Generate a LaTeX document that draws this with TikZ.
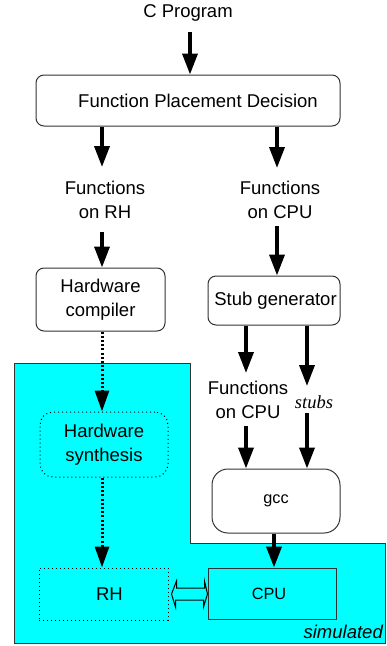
\documentclass[tikz,border=0pt]{standalone}
\usepackage{fontspec}
\setmainfont{Liberation Sans}
\newfontfamily\serifit{Liberation Serif}
\usetikzlibrary{arrows.meta}
\definecolor{simcyan}{HTML}{00FFFF}
\definecolor{edgegray}{HTML}{333333}
\tikzset{
  txt/.style={font=\fontsize{18.5}{24}\selectfont, align=center, inner sep=0pt},
  roundbox/.style={draw=edgegray, line width=1pt, rounded corners=8pt, fill=white, txt},
  arr/.style={line width=3.6pt, -{Triangle[length=21pt,width=15pt]}},
  dotarr/.style={line width=3pt, dash pattern=on 2pt off 2.2pt, -{Triangle[length=21pt,width=14pt]}},
  dotbox/.style={draw=black, line width=1pt, dash pattern=on 1pt off 3pt, txt},
}
\begin{document}
\begin{tikzpicture}[x=1pt,y=-1pt]
\useasboundingbox (0,0) rectangle (386,646);
% simulated region
\draw[fill=simcyan, draw=edgegray, line width=1pt]
  (14,363) -- (190,363) -- (190,543) -- (385,543) -- (385,643) -- (14,643) -- cycle;
\node[txt, anchor=east, font=\fontsize{18.5}{24}\selectfont\itshape] (sim) at (383,632) {simulated};

% nodes
\node[txt] (cprog) at (188,13) {C Program};
\node[roundbox, minimum width=304pt, minimum height=51pt] (fpd) at (188,100.5) {\hspace*{20pt}Function Placement Decision};
\node[txt] (frh) at (105,200) {Functions\\on RH};
\node[txt] (fcpu) at (280,200) {Functions\\on CPU};
\node[roundbox, minimum width=129pt, minimum height=63pt] (hc) at (100.5,299.5) {Hardware\\compiler};
\node[roundbox, minimum width=132pt, minimum height=49pt] (sg) at (274,300.5) {\hspace*{3pt}Stub generator};
\node[dotbox, rounded corners=13pt, minimum width=128pt, minimum height=65pt] (hs) at (104,444.5) {Hardware\\synthesis};
\node[dotbox, minimum width=129pt, minimum height=52pt] (rh) at (103.5,594) {\hspace*{12pt}RH};
\node[txt, draw=edgegray, line width=1pt, fill=simcyan, minimum width=128pt, minimum height=51pt,
      font=\fontsize{16.3}{20}\selectfont] (cpu) at (272,593.5) {CPU\hspace*{6pt}};
\node[roundbox, rounded corners=16pt, minimum width=128pt, minimum height=64pt,
      font=\fontsize{16.3}{20}\selectfont] (gcc) at (276,501) {gcc};
\node[txt] (fcpu2) at (248,400) {Functions\\on CPU};
\node[txt, font=\fontsize{18.5}{24}\selectfont\serifit\itshape] (stubs) at (314,402) {stubs};

% arrows
\draw[arr] ([yshift=-19pt]cprog.center -| 190,0) -- (fpd.north -| 190,0);
\draw[arr] (fpd.south -| 102,0) -- ([yshift=33pt]frh.center -| 102,0);
\draw[arr] (fpd.south -| 277,0) -- ([yshift=32pt]fcpu.center -| 277,0);
\draw[arr] ([yshift=-32pt]frh.center -| 102,0) -- (hc.north -| 102,0);
\draw[arr] ([yshift=-26pt]fcpu.center -| 277,0) -- (sg.north -| 277,0);
\draw[dotarr] (hc.south -| 102,0) -- (hs.north -| 102,0);
\draw[dotarr] (hs.south -| 102,0) -- (rh.north -| 102,0);
\draw[arr] (sg.south -| 246,0) -- ([yshift=27pt]fcpu2.center -| 246,0);
\draw[arr] (sg.south -| 307,0) -- ([yshift=16pt]stubs.center -| 307,0);
\draw[arr] ([yshift=-26pt]fcpu2.center -| 246,0) -- (gcc.north -| 246,0);
\draw[arr] ([yshift=-11pt]stubs.center -| 307,0) -- (gcc.north -| 307,0);
\draw[arr] (gcc.south -| 274,0) -- (cpu.north -| 274,0);

% double hollow arrow between RH and CPU
\draw[line width=1pt, line join=miter]
  (rh.east |- 0,594) ++(3,0) coordinate (dl)
  -- ++(5,-13) -- ++(0,7) -- ++(28,0) -- ++(0,-7) -- (cpu.west |- 0,594)
  -- ++(-4,13) -- ++(0,-7) -- ++(-28,0) -- ++(0,7) -- cycle;
\end{tikzpicture}
\end{document}
